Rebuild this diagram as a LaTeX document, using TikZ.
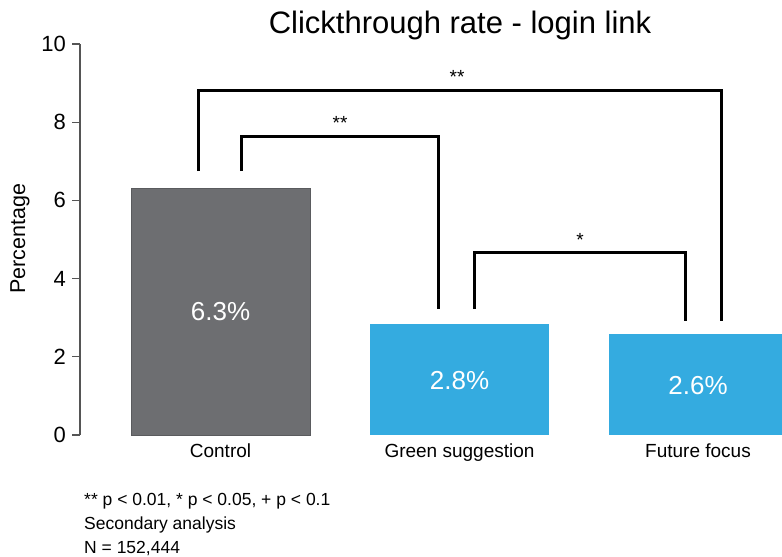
\documentclass[tikz,border=0pt]{standalone}
\usepackage{fontspec}
\setmainfont{Liberation Sans}
\definecolor{ctrlgray}{HTML}{6D6E71}
\definecolor{ctrledge}{HTML}{5A5B5E}
\definecolor{barblue}{HTML}{34ABE0}
\definecolor{axisgray}{HTML}{555555}
\begin{document}
\begin{tikzpicture}[x=1pt,y=-1pt,
  barlabel/.style={text=white,font=\fontsize{26}{28}\selectfont},
  catlabel/.style={font=\fontsize{19}{21}\selectfont,anchor=base},
  ticklabel/.style={font=\fontsize{22}{24}\selectfont,anchor=east,inner sep=0pt},
  bracket/.style={line width=3pt,line cap=butt,line join=miter},
  star/.style={font=\fontsize{19}{21}\selectfont},
  foot/.style={font=\fontsize{17.5}{19}\selectfont,anchor=base west,inner sep=0pt}]
\useasboundingbox (0,0) rectangle (782,557);
\clip (0,0) rectangle (782,557);
% title
\node[font=\fontsize{31}{34}\selectfont] (title) at (460,25) {Clickthrough rate - login link};
% axis
\draw[axisgray,line width=1.3pt] (80,44) -- (80,435);
\foreach \v in {0,2,4,6,8,10}{
  \draw[axisgray,line width=1.3pt] (72,{435-39.1*\v}) -- (80,{435-39.1*\v});
  \node[ticklabel] (t\v) at (66,{435-39.1*\v}) {\v};
}
\node[rotate=90,font=\fontsize{21.5}{23}\selectfont] (ylab) at (20,239) {Percentage};
% bars
\fill[ctrlgray] (131,188) rectangle (310,435);
\draw[ctrledge,line width=0.8pt] (131,188) rectangle (310,435);
\coordinate (cbar) at (220.5,188);
\fill[barblue] (370,324) rectangle (549,435);
\coordinate (gbar) at (459.5,324);
\fill[barblue] (609,334) rectangle (790,435);
\coordinate (fbar) at (698,334);
\node[barlabel] (lc) at (220.5,312) {6.3\%};
\node[barlabel] (lg) at (459.5,381) {2.8\%};
\node[barlabel] (lf) at (698,386) {2.6\%};
% categories
\node[catlabel] (cc) at (220.5,457) {Control};
\node[catlabel] (cg) at (459.5,457) {Green suggestion};
\node[catlabel] (cf) at (698,457) {Future focus};
% brackets
\coordinate (o1) at (198,171);
\coordinate (o2) at (721,321);
\draw[bracket] (o1) -- (198,90) -- (721,90) -- (o2);
\node[star] (s1) at (457,77) {**};
\coordinate (i1) at (241,171);
\coordinate (i2) at (438,309);
\draw[bracket] (i1) -- (241,136) -- (438,136) -- (i2);
\node[star] (s2) at (340,123) {**};
\coordinate (j1) at (474,309);
\coordinate (j2) at (685,321);
\draw[bracket] (j1) -- (474,252) -- (685,252) -- (j2);
\node[star] (s3) at (580,240) {*};
% footer
\node[foot] (f1) at (84,505) {** p < 0.01, * p < 0.05, + p < 0.1};
\node[foot] (f2) at (84,529.5) {Secondary analysis};
\node[foot] (f3) at (84,553) {N = 152,444};
\end{tikzpicture}
\end{document}
